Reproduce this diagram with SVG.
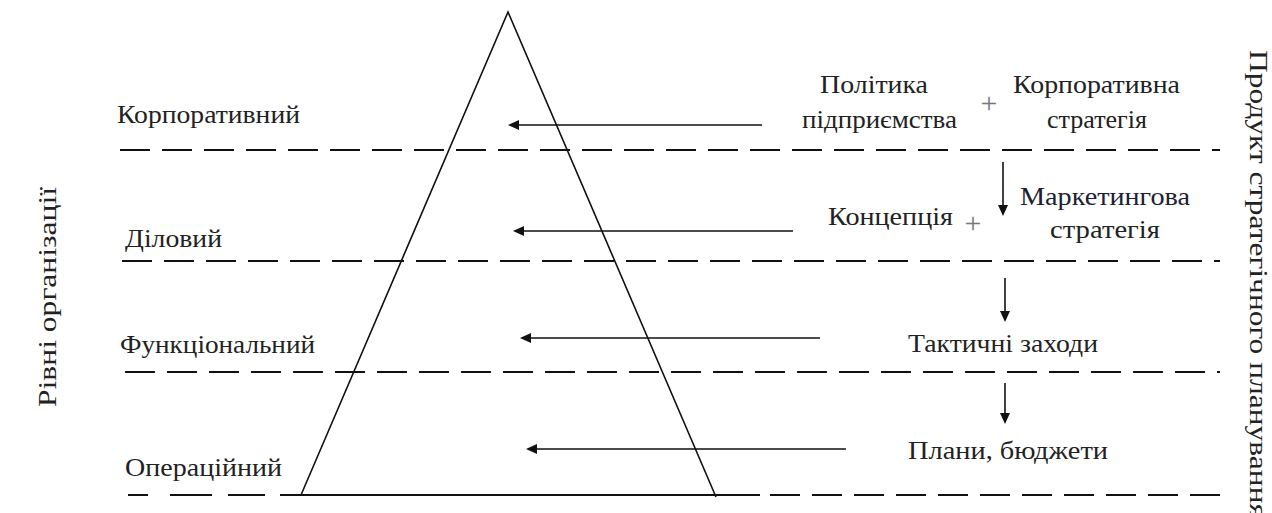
<svg xmlns="http://www.w3.org/2000/svg" width="1272" height="513" viewBox="0 0 1272 513">
<style>
.t{font-family:'Liberation Serif','DejaVu Serif','Times New Roman',serif;font-size:26px;fill:#222}
.plus{font-family:'Liberation Serif','DejaVu Serif',serif;font-size:30px;fill:#777}
.dash{stroke:#111;stroke-width:2;stroke-dasharray:30 12;fill:none}
.ln{stroke:#111;stroke-width:1.6;fill:none}
.ar{stroke:#111;stroke-width:1.6;fill:none;marker-end:url(#ah)}
</style>
<defs>
<marker id="ah" markerWidth="12" markerHeight="10" refX="9" refY="5" orient="auto" markerUnits="userSpaceOnUse">
<path d="M0,0 L11,5 L0,10 Z" fill="#111"/>
</marker>
</defs>
<rect width="1272" height="513" fill="#fff"/>
<g id="pyramid">
<polyline class="ln" points="301,495 508,12 716,497"/>
</g>
<g id="levels">
<line class="dash" x1="120" y1="150" x2="1220" y2="150"/>
<line class="dash" x1="122" y1="261" x2="1220" y2="261"/>
<line class="dash" x1="125" y1="372" x2="1220" y2="372"/>
<line class="dash" x1="128" y1="495" x2="275" y2="495" style="stroke-dasharray:20 22 42 16 37 15"/>
<line x1="280" y1="495" x2="760" y2="495" stroke="#111" stroke-width="2"/>
<line class="dash" x1="770" y1="495" x2="1220" y2="495"/>
</g>
<g id="level-labels">
<text class="t" x="117" y="123" textLength="183" lengthAdjust="spacingAndGlyphs">Корпоративний</text>
<text class="t" x="125" y="247" textLength="97" lengthAdjust="spacingAndGlyphs">Діловий</text>
<text class="t" x="120" y="353" textLength="195" lengthAdjust="spacingAndGlyphs">Функціональний</text>
<text class="t" x="125" y="476" textLength="157" lengthAdjust="spacingAndGlyphs">Операційний</text>
<text class="t" transform="translate(56,407) rotate(-90)" textLength="220" lengthAdjust="spacingAndGlyphs">Рівні організації</text>
<text class="t" transform="translate(1250,50) rotate(90)" textLength="468" lengthAdjust="spacingAndGlyphs">Продукт стратегічного планування</text>
</g>
<g id="products">
<text class="t" x="820" y="93" textLength="108" lengthAdjust="spacingAndGlyphs">Політика</text>
<text class="t" x="802" y="128" textLength="155" lengthAdjust="spacingAndGlyphs">підприємства</text>
<text class="plus" x="989" y="113" text-anchor="middle">+</text>
<text class="t" x="1013" y="93" textLength="167" lengthAdjust="spacingAndGlyphs">Корпоративна</text>
<text class="t" x="1047" y="128" textLength="100" lengthAdjust="spacingAndGlyphs">стратегія</text>
<text class="t" x="828" y="225" textLength="125" lengthAdjust="spacingAndGlyphs">Концепція</text>
<text class="plus" x="973" y="233" text-anchor="middle">+</text>
<text class="t" x="1020" y="205" textLength="170" lengthAdjust="spacingAndGlyphs" style="fill:#1c2233">Маркетингова</text>
<text class="t" x="1050" y="238" textLength="110" lengthAdjust="spacingAndGlyphs">стратегія</text>
<text class="t" x="908" y="352" textLength="190" lengthAdjust="spacingAndGlyphs">Тактичні заходи</text>
<text class="t" x="908" y="459" textLength="200" lengthAdjust="spacingAndGlyphs">Плани, бюджети</text>
</g>
<g id="connectors">
<line class="ar" x1="762" y1="125" x2="510" y2="125"/>
<line class="ar" x1="793" y1="231" x2="515" y2="231"/>
<line class="ar" x1="820" y1="338" x2="522" y2="338"/>
<line class="ar" x1="846" y1="449" x2="528" y2="449"/>
<line class="ar" x1="1003" y1="162" x2="1003" y2="214"/>
<line class="ar" x1="1005" y1="278" x2="1005" y2="320"/>
<line class="ar" x1="1005" y1="383" x2="1005" y2="422"/>
</g>
</svg>
